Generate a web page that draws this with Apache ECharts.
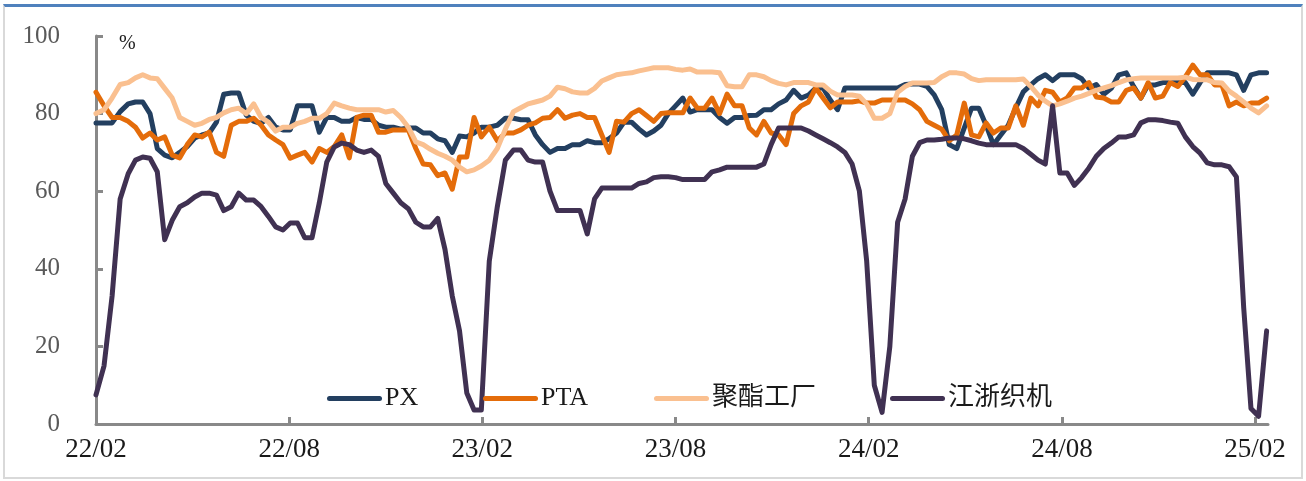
<!DOCTYPE html>
<html><head><meta charset="utf-8">
<script src="https://cdn.jsdelivr.net/npm/echarts@6/dist/echarts.min.js"></script>
<style>
html,body{margin:0;padding:0;background:#fff;}
#chart{position:absolute;left:0;top:0;width:1306px;height:481px;}
#frame{position:absolute;left:3px;top:4px;width:1296px;height:470px;border-top:3px solid #4F81BD;border-left:2px solid #D9D9D9;border-right:2px solid #D9D9D9;border-bottom:2px solid #D9D9D9;pointer-events:none;}
</style></head><body>
<div id="chart"></div><div id="frame"></div>
<script>
// ---- data ----
const seriesNames = ['PX', 'PTA', '聚酯工厂', '江浙织机'];
const xTickLabels = ['22/02', '22/08', '23/02', '23/08', '24/02', '24/08', '25/02'];
const yTickLabels = ['0', '20', '40', '60', '80', '100'];
const firstWeek = '2022-02-01'; // weekly observations start here
const weekCount = 159;

const pxValues = [
  77.6,77.6,77.6,80.5,82.5,83,83,80,71,69.3,
  68.6,70,71.5,73.7,74.5,75,77.8,85,85.3,85.3,
  79.6,78,77.5,79,76.5,75.8,75.8,82,82,82,
  75.2,79,79,78,78,79,78.5,78.5,77,76.5,
  76.5,76,76.3,76.3,75,75,73.5,73,70,74.2,
  74,75,76.5,76.5,77,78.8,78.8,78.4,78.4,74.5,
  72,70,71,71,72,72,73,72.5,72.5,73.5,
  75,77.8,77.8,76,74.5,75.5,77,80,82,84,
  80.4,81,81,81,79,77.5,79,79,79.5,79.6,
  81,81,82.5,83.5,86,84,84.8,86.6,86.6,83.5,
  81,86.6,86.6,86.6,86.6,86.6,86.6,86.6,86.6,87.5,
  87.6,87.6,87,84.8,81,72,71,76.3,81.4,81.4,
  77,72,74.5,77,81.5,85.6,87.4,89,90,88.5,
  90,90,90,89,86.6,87.5,85,86.5,90,90.5,
  87,84,87.4,87.4,88,88,88,88,85,88,
  90.5,90.5,90.5,90.5,90,86,90,90.5,90.5
];
const ptaValues = [
  85.5,82,79,79,78,76.5,73.7,75,73.2,74,
  69.3,68.6,72,74.5,74,75.2,70,69,77,78,
  78,78.8,77,74.5,73.2,72,68.5,69.3,70,67.5,
  71,70,71.5,74.5,68.6,79,79.6,79.6,75.2,75.2,
  75.8,75.8,75.8,71,67,66.8,64,64.7,60.5,68.8,
  68.8,79,74,76.5,73,75,75,75.8,77,77.6,
  78.8,79,81,78.8,79.6,80,79,79,74.5,70,
  78,77.8,80,81,79.5,78,80,80.2,80.2,80.2,
  84,81.4,81.4,84,80,85,82,82,76.3,74.5,
  78,75,74.5,72,80,82,83,86.6,84,81.5,
  83,83,83,83.3,82.7,82.7,83.5,83.5,83.5,83.5,
  82.5,81,78,77,76,73,74.5,82.7,74.5,74,
  77.6,75,76.3,76.3,82,77,84,82,86,85.5,
  83,84,86.6,86.6,88,84.3,84,83,83,86,
  86.6,84,88,84,84.5,88,87,89.5,92.5,90,
  90,87.4,87.4,82,83,82,82.7,82.7,84
];
const polyesterValues = [
  80,81,84,87.5,88,89.2,90,89.2,89,86.5,
  84,79,78,77,77.5,78.5,79,80.2,81,81.4,
  80,82.5,79,77.8,75.5,76.5,76.5,77.5,78,78.8,
  78.8,80,82.7,82,81.4,81,81,81,81,80.4,
  80.8,79,76.5,72.7,72,70.8,69.8,69,68,66.2,
  65,65.5,66.5,68,71,76,80.5,81.5,82.5,83,
  83.5,84.5,86.8,86.4,85.6,85.3,85.3,86.5,88.4,89.2,
  90,90.3,90.5,91,91.4,91.8,91.8,91.8,91.4,91.2,
  91.5,90.7,90.7,90.7,90.5,87.2,86.9,86.9,90,90,
  89.5,88.5,87.8,87.4,88,88,88,87.4,87.4,85.8,
  84.8,84.8,84.8,84.5,82.5,78.8,78.8,80,85.5,87,
  87.9,87.9,87.9,88,89.5,90.5,90.5,90.2,89,88.5,
  88.7,88.7,88.7,88.7,88.7,88.9,87,84.8,83.2,82,
  82.5,83.2,84,84.5,85.2,86,86.6,87.2,88,88.7,
  89,89.2,89.2,89.2,89.2,89.2,89.2,89.4,88.8,88.7,
  88.7,88,87.9,85.8,84.5,83,81.4,80.2,82
];
const loomValues = [
  7.5,15,33,58,64.5,68,68.8,68.5,65,47.5,
  52.5,56,57,58.5,59.5,59.5,59,55,56,59.5,
  57.7,57.7,56,53.5,50.8,50,51.8,51.8,48,48,
  57,67.5,71.4,72.4,72,70.6,70,70.6,69,62,
  59.5,57,55.5,52,50.8,50.8,53,45,33,24,
  8,3.6,3.6,42,56,68,70.6,70.6,68,67.5,
  67.5,60,55,55,55,55,49,58,60.8,60.8,
  60.8,60.8,60.8,62,62.4,63.5,63.7,63.7,63.5,63,
  63,63,63,65,65.5,66.2,66.2,66.2,66.2,66.2,
  67,72,76.3,76.3,76.3,76.3,75.5,74.5,73.5,72.5,
  71.4,70,67,60,42,10,3,20,52,58,
  69,72.5,73.2,73.2,73.4,73.7,73.7,73.5,73,72.4,
  72,72,72,72,72,71,69.5,68,67,82,
  64.7,64.7,61.5,63.5,66,69,71,72.4,74,74,
  74.5,77.6,78.4,78.4,78.2,77.8,77.5,74,71.5,69.8,
  67.3,66.8,66.8,66.3,63.7,30,4,2,24
];
const seriesColors = ['#233F60', '#E46C0A', '#FAC090', '#403152'];

// ---- helpers: week dates -> months since 2022/02 ----
function weekDates() {
  const out = [];
  const t0 = Date.parse(firstWeek + 'T00:00:00Z');
  for (let i = 0; i < weekCount; i++) out.push(new Date(t0 + i * 7 * 86400000));
  return out;
}
function monthIndex(d) {
  const y = d.getUTCFullYear(), m = d.getUTCMonth(), day = d.getUTCDate();
  const dim = new Date(Date.UTC(y, m + 1, 0)).getUTCDate();
  return (y - 2022) * 12 + (m - 1) + (day - 1) / dim;
}
const xs = weekDates().map(monthIndex);
function pairs(vals) { return vals.map((v, i) => [xs[i], v]); }

const allValues = [pxValues, ptaValues, polyesterValues, loomValues];
const serif = '"Liberation Serif", "Noto Sans CJK SC", serif';

const chart = echarts.init(document.getElementById('chart'), null, {renderer: 'canvas'});
const legendLefts = [327, 483, 654, 890];
const capsule = 'path://M2.5,0 L52.5,0 A2.5,2.5 0 0 1 52.5,5 L2.5,5 A2.5,2.5 0 0 1 2.5,0 Z';

chart.setOption({
  animation: false,
  backgroundColor: '#ffffff',
  grid: {left: 96, right: 38, top: 36, bottom: 57, containLabel: false},
  legend: seriesNames.map((n, i) => ({
    data: [{name: n, icon: capsule}], left: legendLefts[i], top: 385.5, padding: 0,
    itemWidth: 55, itemHeight: 5, itemGap: 0,
    textStyle: {fontFamily: serif, fontSize: 26, color: '#1a1a1a', padding: [0, 0, 0, -2]}
  })),
  xAxis: {
    type: 'value', min: 0, max: 36.4, interval: 6,
    axisLine: {show: true, lineStyle: {color: '#898989', width: 3}},
    axisTick: {show: true, inside: true, length: 7, lineStyle: {color: '#898989', width: 3}},
    splitLine: {show: false},
    axisLabel: {
      margin: 12, fontFamily: serif, fontSize: 27, color: '#1a1a1a',
      showMaxLabel: false,
      formatter: v => xTickLabels[Math.round(v / 6)] || ''
    }
  },
  yAxis: {
    type: 'value', min: 0, max: 100, interval: 20,
    axisLine: {show: true, lineStyle: {color: '#898989', width: 3}},
    axisTick: {show: true, inside: true, length: 7, lineStyle: {color: '#898989', width: 3}},
    splitLine: {show: false},
    axisLabel: {
      margin: 36, fontFamily: serif, fontSize: 25, color: '#595959',
      formatter: v => yTickLabels[Math.round(v / 20)]
    }
  },
  graphic: [{
    type: 'text', left: 119, top: 34,
    style: {text: '%', font: '20px ' + serif, fill: '#1a1a1a'}
  }],
  series: seriesNames.map((n, i) => ({
    name: n, type: 'line', symbol: 'none', showSymbol: false,
    data: pairs(allValues[i]),
    lineStyle: {color: seriesColors[i], width: 5, cap: 'round', join: 'round'},
    itemStyle: {color: seriesColors[i]},
    emphasis: {disabled: true}
  }))
});
</script></body></html>
